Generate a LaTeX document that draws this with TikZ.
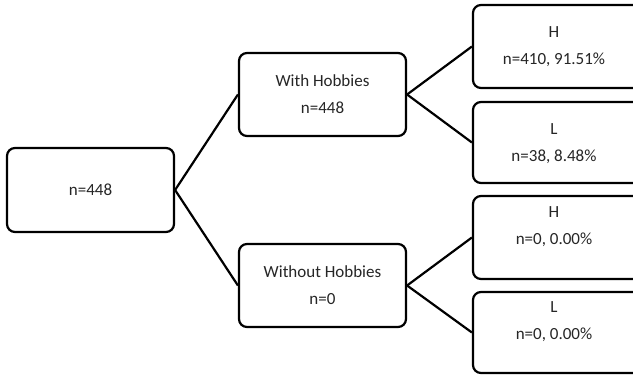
\documentclass[tikz,border=0pt]{standalone}
\usepackage{fontspec}
\setmainfont{Carlito}
\begin{document}
\begin{tikzpicture}[x=1pt,y=-1pt,
  txt/.style={font=\fontsize{17}{27}\selectfont,text=black!85,align=center},
  box/.style={draw=black,line width=2.2pt,rounded corners=8pt,fill=white,inner sep=0pt,txt},
  link/.style={draw=black,line width=2.2pt}]
\useasboundingbox (0,0) rectangle (633,375);
\clip (0,0) rectangle (633,375);
\node[box,minimum width=167pt,minimum height=84pt] (root) at (90.5,190) {n=448};
\node[box,minimum width=167pt,minimum height=83pt] (with) at (322.5,94.5) {With Hobbies\\n=448};
\node[box,minimum width=167pt,minimum height=83pt] (without) at (322.5,285.5) {Without Hobbies\\n=0};
\node[box,minimum width=175pt,minimum height=83pt] (h1) at (560.5,46.5) {};
\node[box,minimum width=175pt,minimum height=81pt] (l1) at (560.5,142.5) {};
\node[box,minimum width=175pt,minimum height=83pt] (h2) at (560.5,237.5) {};
\node[box,minimum width=175pt,minimum height=81pt] (l2) at (560.5,332.5) {};
\node[txt,anchor=center] (h1t) at (554,47) {H\\n=410, 91.51\%};
\node[txt,anchor=center] (l1t) at (554,144) {L\\n=38, 8.48\%};
\node[txt,anchor=center] (h2t) at (554,226.5) {H\\n=0, 0.00\%};
\node[txt,anchor=center] (l2t) at (554,321.5) {L\\n=0, 0.00\%};
\draw[link] (root.east) -- (with.west);
\draw[link] (root.east) -- (without.west);
\draw[link] (with.east) -- (h1.west);
\draw[link] (with.east) -- (l1.west);
\draw[link] (without.east) -- (h2.west);
\draw[link] (without.east) -- (l2.west);
\end{tikzpicture}
\end{document}
